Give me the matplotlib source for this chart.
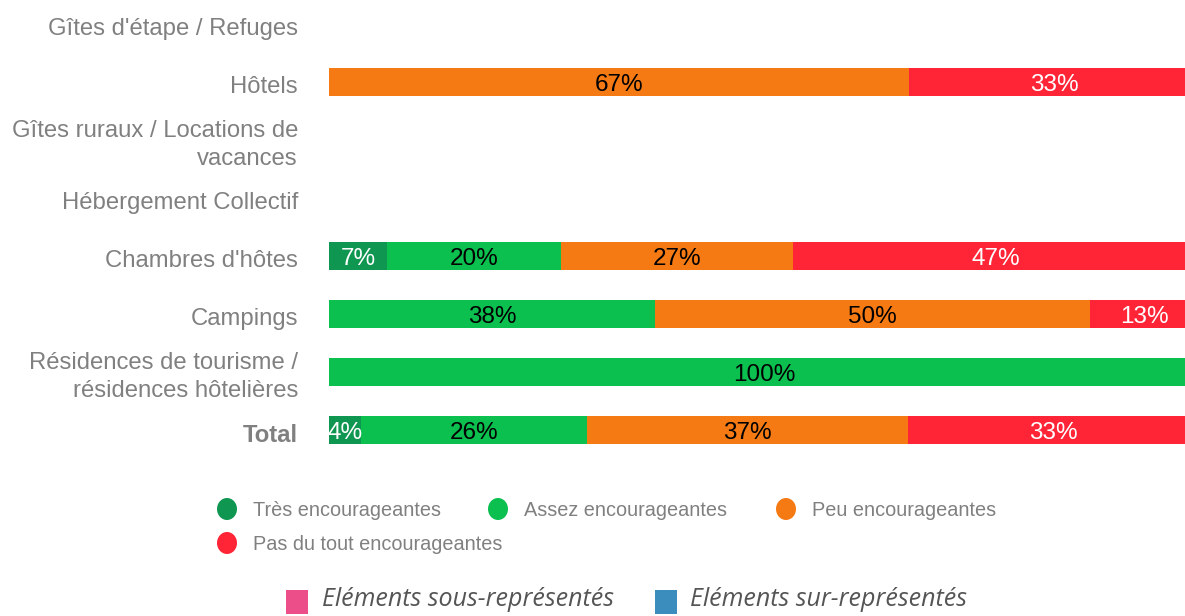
import matplotlib
matplotlib.use("Agg")
import matplotlib.pyplot as plt
from matplotlib.patches import Rectangle, Ellipse
from matplotlib.transforms import offset_copy, blended_transform_factory

categories = [
    "Gîtes d'étape / Refuges",
    "Hôtels",
    "Gîtes ruraux / Locations de\nvacances",
    "Hébergement Collectif",
    "Chambres d'hôtes",
    "Campings",
    "Résidences de tourisme /\nrésidences hôtelières",
    "Total",
]
series_names = ["Très encourageantes", "Assez encourageantes",
                "Peu encourageantes", "Pas du tout encourageantes"]
tres = [0, 0, 0, 0, 6.67, 0, 0, 3.7]
assez = [0, 0, 0, 0, 20.0, 37.5, 100.0, 25.9]
peu = [0, 66.67, 0, 0, 26.67, 50.0, 0, 37.0]
pas = [0, 33.33, 0, 0, 46.67, 12.5, 0, 33.3]
series = [tres, assez, peu, pas]
colors = ["#0F9650", "#0BC04F", "#F57A14", "#FF2436"]
text_colors = ["white", "black", "black", "white"]

W, H = 1185, 616
fig = plt.figure(figsize=(W / 100, H / 100), dpi=100)
font = "Liberation Sans"

# axes extends beyond right edge (clipped in original)
ax_left, ax_right = 329, 1199
ax_top, ax_bot = -5, 459
ax = fig.add_axes([ax_left / W, 1 - ax_bot / H, (ax_right - ax_left) / W, (ax_bot - ax_top) / H])
ax.set_xlim(0, 100)
ax.set_ylim(len(categories) - 0.5, -0.5)
for s in ax.spines.values():
    s.set_visible(False)
ax.set_xticks([])
ax.set_yticks([])

# category labels
lab_tr = offset_copy(blended_transform_factory(ax.transAxes, ax.transData),
                     fig=fig, x=-31, y=-5, units="dots")
for i, cat in enumerate(categories):
    ax.text(0, i, cat, transform=lab_tr, ha="right", va="center",
            multialignment="right", linespacing=1.33,
            fontsize=17.2, color="#808080", fontfamily=font,
            fontweight="bold" if cat == "Total" else "normal")

bar_h = 0.483
val_tr = offset_copy(ax.transData, fig=fig, x=0, y=-3, units="dots")
for i in range(len(categories)):
    left = 0
    for k, vals in enumerate(series):
        v = vals[i]
        if v <= 0:
            continue
        ax.barh(i, v, left=left, height=bar_h, color=colors[k], linewidth=0)
        ax.text(left + v / 2, i, f"{int(v + 0.5)}%", ha="center", va="center",
                transform=val_tr, color=text_colors[k], fontsize=17.5,
                fontfamily=font)
        left += v

# legend (circles)
leg_rows = [(509, [227, 498, 786]), (543, [227])]
idx = 0
for y, xs in leg_rows:
    for x in xs:
        fig.patches.append(Ellipse((x / W, 1 - y / H), 20 / W, 22 / H,
                                   transform=fig.transFigure,
                                   color=colors[idx], linewidth=0))
        fig.text((x + 26) / W, 1 - (y + 1) / H, series_names[idx], ha="left", va="center",
                 fontsize=14.3, color="#808080", fontfamily=font)
        idx += 1

# bottom legend (squares)
bottom_items = [("Eléments sous-représentés", "#EC4E89", 286, 322),
                ("Eléments sur-représentés", "#3A8DBD", 655, 690)]
for txt, c, sx, tx in bottom_items:
    fig.patches.append(Rectangle((sx / W, 1 - 614 / H), 22 / W, 24 / H,
                                 transform=fig.transFigure, color=c, linewidth=0))
    fig.text(tx / W, 1 - 600 / H, txt, ha="left", va="center", fontsize=18,
             style="italic", color="#555555", fontfamily="Open Sans")

fig.savefig("out.png", dpi=100)
